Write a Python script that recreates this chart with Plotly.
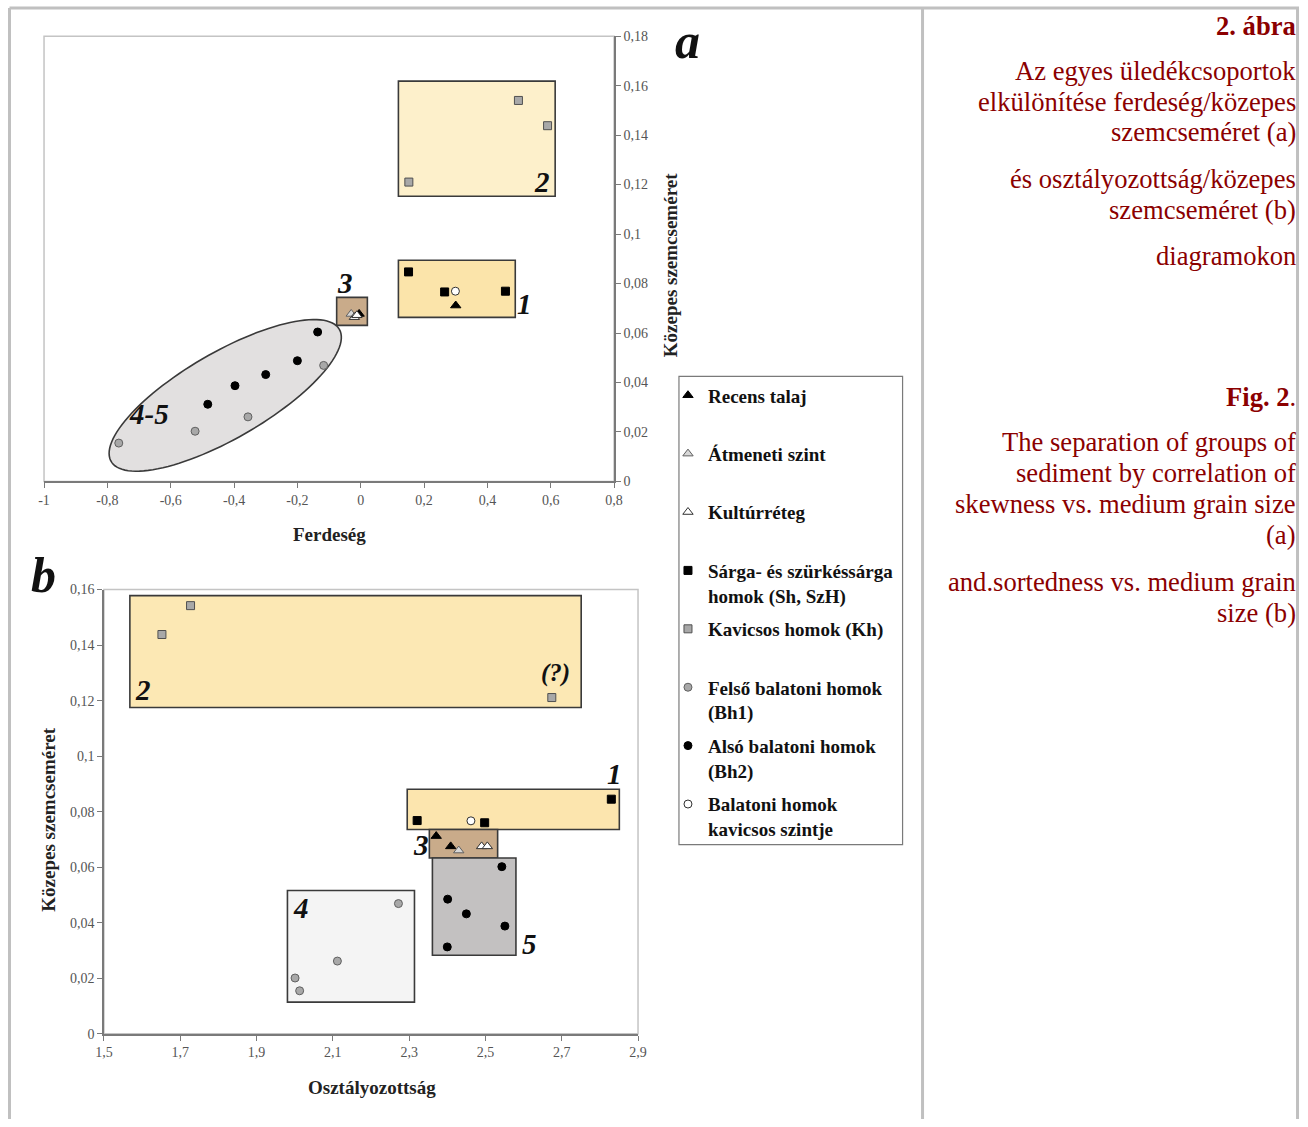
import numpy as np
import plotly.graph_objects as go

# figure size (the browser window)
W, H = 1308, 1127
# the photographed picture is slightly larger than the window; map reference pixels to figure pixels
SX, SY, OFF = 1308 / 1324, 1127 / 1143, 8

# ---------------- Panel a: Ferdeség (skewness) vs Közepes szemcseméret ----------------
recens_a_x = [0.300, -0.005]
recens_a_y = [0.0711, 0.0677]
atmeneti_a_x = [-0.030]
atmeneti_a_y = [0.0677]
kultur_a_x = [-0.020, -0.012]
kultur_a_y = [0.0664, 0.0672]
sarga_a_x = [0.151, 0.265, 0.457]
sarga_a_y = [0.0847, 0.0766, 0.0769]
kavicsos_a_x = [0.498, 0.590, 0.152]
kavicsos_a_y = [0.1540, 0.1438, 0.1210]
felso_a_x = [-0.764, -0.523, -0.356, -0.117]
felso_a_y = [0.0155, 0.0203, 0.0261, 0.0469]
also_a_x = [-0.483, -0.397, -0.300, -0.200, -0.136]
also_a_y = [0.0312, 0.0387, 0.0432, 0.0488, 0.0604]
balkav_a_x = [0.299]
balkav_a_y = [0.0769]

# ---------------- Panel b: Osztályozottság (sortedness) vs Közepes szemcseméret ----------------
recens_b_x = [2.371, 2.409]
recens_b_y = [0.0712, 0.0675]
atmeneti_b_x = [2.430]
atmeneti_b_y = [0.0660]
kultur_b_x = [2.490, 2.505]
kultur_b_y = [0.0675, 0.0675]
sarga_b_x = [2.321, 2.498, 2.830]
sarga_b_y = [0.0768, 0.0760, 0.0845]
kavicsos_b_x = [1.652, 1.727, 2.674]
kavicsos_b_y = [0.1438, 0.1542, 0.1211]
felso_b_x = [2.001, 2.013, 2.112, 2.272]
felso_b_y = [0.0201, 0.0155, 0.0262, 0.0469]
also_b_x = [2.400, 2.401, 2.450, 2.551, 2.543]
also_b_y = [0.0313, 0.0485, 0.0432, 0.0388, 0.0602]
balkav_b_x = [2.462]
balkav_b_y = [0.0767]

# group envelopes (x0, x1, y0, y1)
groups_a = {"2": (0.119, 0.614, 0.1153, 0.1618),
            "1": (0.119, 0.488, 0.0663, 0.0894),
            "3": (-0.076, 0.021, 0.0631, 0.0744)}
groups_b = {"2": (1.568, 2.751, 0.1175, 0.1578),
            "1": (2.295, 2.851, 0.0736, 0.0881),
            "3": (2.353, 2.532, 0.0633, 0.0736),
            "5": (2.361, 2.580, 0.0283, 0.0633),
            "4": (1.981, 2.314, 0.0114, 0.0516)}

# tick labels
xa_ticks = [-1, -0.8, -0.6, -0.4, -0.2, 0, 0.2, 0.4, 0.6, 0.8]
xa_text = ["-1", "-0,8", "-0,6", "-0,4", "-0,2", "0", "0,2", "0,4", "0,6", "0,8"]
ya_ticks = [0, 0.02, 0.04, 0.06, 0.08, 0.1, 0.12, 0.14, 0.16, 0.18]
ya_text = ["0", "0,02", "0,04", "0,06", "0,08", "0,1", "0,12", "0,14", "0,16", "0,18"]
xb_ticks = [1.5, 1.7, 1.9, 2.1, 2.3, 2.5, 2.7, 2.9]
xb_text = ["1,5", "1,7", "1,9", "2,1", "2,3", "2,5", "2,7", "2,9"]
yb_ticks = [0, 0.02, 0.04, 0.06, 0.08, 0.1, 0.12, 0.14, 0.16]
yb_text = ["0", "0,02", "0,04", "0,06", "0,08", "0,1", "0,12", "0,14", "0,16"]

SERIF = "Liberation Serif"


def px(x):
    return (x / SX - OFF) / W


def py(y):
    return 1 - (y / SY - OFF) / H


fig = go.Figure()

series = [
    ("Recens talaj", recens_a_x, recens_a_y, recens_b_x, recens_b_y,
     dict(symbol="triangle-up", size=9, color="#000000", line=dict(color="#000000", width=1))),
    ("Átmeneti szint", atmeneti_a_x, atmeneti_a_y, atmeneti_b_x, atmeneti_b_y,
     dict(symbol="triangle-up", size=9, color="#d8d8d8", line=dict(color="#606060", width=1))),
    ("Kultúrréteg", kultur_a_x, kultur_a_y, kultur_b_x, kultur_b_y,
     dict(symbol="triangle-up", size=9, color="#ffffff", line=dict(color="#303030", width=1))),
    ("Sárga- és szürkéssárga<br>homok (Sh, SzH)", sarga_a_x, sarga_a_y, sarga_b_x, sarga_b_y,
     dict(symbol="square", size=8, color="#000000", line=dict(color="#000000", width=1))),
    ("Kavicsos homok (Kh)", kavicsos_a_x, kavicsos_a_y, kavicsos_b_x, kavicsos_b_y,
     dict(symbol="square", size=8, color="#a8a8a8", line=dict(color="#505050", width=1))),
    ("Felső balatoni homok<br>(Bh1)", felso_a_x, felso_a_y, felso_b_x, felso_b_y,
     dict(symbol="circle", size=8, color="#a8a8a8", line=dict(color="#606060", width=1))),
    ("Alsó balatoni homok<br>(Bh2)", also_a_x, also_a_y, also_b_x, also_b_y,
     dict(symbol="circle", size=8, color="#000000", line=dict(color="#000000", width=1))),
    ("Balatoni homok<br>kavicsos szintje", balkav_a_x, balkav_a_y, balkav_b_x, balkav_b_y,
     dict(symbol="circle", size=8, color="#ffffff", line=dict(color="#303030", width=1))),
]

for i, (name, xa, ya, xb, yb, mk) in enumerate(series):
    lname = name if "<br>" in name else name + "<br>\u00a0"
    fig.add_trace(go.Scatter(x=xa, y=ya, mode="markers", marker=mk, name=lname,
                             legendgroup=f"g{i}", showlegend=True, xaxis="x", yaxis="y"))
    fig.add_trace(go.Scatter(x=xb, y=yb, mode="markers", marker=mk, name=lname,
                             legendgroup=f"g{i}", showlegend=False, xaxis="x2", yaxis="y2"))

shapes = []
# page frame lines
frame = "#c0c0c0"
fl, ft, fr = 0.5 / W, 1 - 1.0 / H, 1 - 1.5 / W
shapes += [
    dict(type="line", xref="paper", yref="paper", x0=fl, x1=1, y0=ft, y1=ft, line=dict(color=frame, width=3)),
    dict(type="line", xref="paper", yref="paper", x0=fl, x1=fl, y0=ft, y1=0, line=dict(color=frame, width=3)),
    dict(type="line", xref="paper", yref="paper", x0=px(923), x1=px(923), y0=ft, y1=0, line=dict(color=frame, width=3)),
    dict(type="line", xref="paper", yref="paper", x0=fr, x1=fr, y0=ft, y1=0, line=dict(color=frame, width=3)),
]
# legend frame
shapes.append(dict(type="rect", xref="paper", yref="paper", x0=px(679), x1=px(903), y0=py(845), y1=py(377),
                   line=dict(color="#7a7a7a", width=1.2), fillcolor="rgba(0,0,0,0)"))
# plot-area frames
for xr, yr in (("x", "y"), ("x2", "y2")):
    shapes.append(dict(type="rect", xref=f"{xr} domain", yref=f"{yr} domain", x0=0, x1=1, y0=0, y1=1,
                       line=dict(color="#c4c4c4", width=1.5), layer="below"))

box_line = dict(color="#3a3a3a", width=1.6)
fills_a = {"2": "#fdf0cb", "1": "#fbe4aa", "3": "#c9ab8a"}
for k, (x0, x1, y0, y1) in groups_a.items():
    shapes.append(dict(type="rect", xref="x", yref="y", x0=x0, x1=x1, y0=y0, y1=y1,
                       fillcolor=fills_a[k], line=box_line, layer="below"))
fills_b = {"2": "#fce8b4", "1": "#fce5ae", "3": "#c9ab8a", "5": "#c3c1c1", "4": "#f4f4f4"}
for k, (x0, x1, y0, y1) in groups_b.items():
    shapes.append(dict(type="rect", xref="x2", yref="y2", x0=x0, x1=x1, y0=y0, y1=y1,
                       fillcolor=fills_b[k], line=box_line, layer="below"))

# ellipse around groups 4-5 in panel a (rotated in screen space, reference pixels)
xa_ppu = (614 - 43) / 1.8
ya_ppu = (482 - 37) / 0.18
cx, cy = -1 + (224.5 - 43) / xa_ppu, (482 - 396) / ya_ppu
A, B, th = 132, 43, np.deg2rad(30)
t = np.linspace(0, 2 * np.pi, 120)
ex = A * np.cos(t) * np.cos(th) - B * np.sin(t) * np.sin(th)
ey = A * np.cos(t) * np.sin(th) + B * np.sin(t) * np.cos(th)
exd = cx + ex / xa_ppu
eyd = cy + ey / ya_ppu
path = "M " + " L ".join(f"{a:.5f},{b:.6f}" for a, b in zip(exd, eyd)) + " Z"
shapes.append(dict(type="path", xref="x", yref="y", path=path, fillcolor="#e2e0e0",
                   line=dict(color="#3a3a3a", width=1.6), layer="below"))

ann = []


def lab(text, x, y, size=29, color="#111111", italic=True, bold=True):
    t = text
    if bold:
        t = f"<b>{t}</b>"
    if italic:
        t = f"<i>{t}</i>"
    ann.append(dict(text=t, x=px(x), y=py(y), xref="paper", yref="paper", showarrow=False,
                    xanchor="center", yanchor="middle", font=dict(family=SERIF, size=size, color=color)))


# group labels
lab("2", 542, 183)
lab("1", 524, 305)
lab("3", 344, 284)
lab("4-5", 148, 415)
lab("a", 688, 42, size=50)
lab("2", 142, 690)
lab("(?)", 555, 673, size=25)
lab("1", 614, 774)
lab("3", 421, 845)
lab("4", 300, 908)
lab("5", 529, 944)
lab("b", 42, 575, size=50)

# axis titles
TFONT = dict(family=SERIF, size=19, color="#222")
for text, x, y, ang in (("<b>Ferdeség</b>", 329, 535, 0),
                        ("<b>Közepes szemcseméret</b>", 670, 266, -90),
                        ("<b>Osztályozottság</b>", 372, 1088, 0),
                        ("<b>Közepes szemcseméret</b>", 48, 820, -90)):
    ann.append(dict(text=text, x=px(x), y=py(y), xref="paper", yref="paper", showarrow=False,
                    xanchor="center", yanchor="middle", textangle=ang, font=TFONT))

# caption text on the right (one annotation per line)
RED = "#8b0000"
caption_lines = [
    ("<b>2. ábra</b>", 27),
    ("Az egyes üledékcsoportok", 72),
    ("elkülönítése ferdeség/közepes", 103),
    ("szemcseméret (a)", 133),
    ("és osztályozottság/közepes", 180),
    ("szemcseméret (b)", 211),
    ("diagramokon", 257),
    ("<b>Fig. 2</b>.", 398),
    ("The separation of groups of", 443),
    ("sediment by correlation of", 474),
    ("skewness vs. medium grain size", 505),
    ("(a)", 536),
    ("and.sortedness vs. medium grain", 582),
    ("size (b)", 613),
]
for text, yc in caption_lines:
    ann.append(dict(text=text, x=px(1299), y=py(yc), xref="paper", yref="paper", showarrow=False,
                    xanchor="right", yanchor="middle", align="right",
                    font=dict(family=SERIF, size=26.6, color=RED)))

axis_common = dict(showgrid=False, zeroline=False, showline=True, linecolor="#7a7a7a", linewidth=1.5,
                   ticks="outside", ticklen=5, tickcolor="#7a7a7a", tickwidth=1.2,
                   tickfont=dict(family=SERIF, size=14, color="#555555"))

fig.update_layout(
    width=W, height=H, autosize=False,
    margin=dict(l=0, r=0, t=0, b=0),
    paper_bgcolor="white", plot_bgcolor="white",
    showlegend=True,
    xaxis=dict(domain=[px(43), px(614)], range=[-1, 0.8], anchor="y",
               tickvals=xa_ticks, ticktext=xa_text, **axis_common),
    yaxis=dict(domain=[py(482), py(37)], range=[0, 0.18], anchor="x", side="right",
               tickvals=ya_ticks, ticktext=ya_text, **axis_common),
    xaxis2=dict(domain=[px(103), px(638)], range=[1.5, 2.9], anchor="y2",
                tickvals=xb_ticks, ticktext=xb_text, **axis_common),
    yaxis2=dict(domain=[py(1034), py(590)], range=[0, 0.16], anchor="x2",
                tickvals=yb_ticks, ticktext=yb_text, **axis_common),
    legend=dict(x=px(668), y=py(377), xanchor="left", yanchor="top",
                bgcolor="rgba(0,0,0,0)", borderwidth=0,
                font=dict(family=SERIF, size=19, color="#111111", weight="bold"),
                tracegroupgap=6, valign="top", itemwidth=30),
    shapes=shapes,
    annotations=ann,
)

fig.write_html("out.html", config={"displayModeBar": False},
               post_script="document.body.style.margin='0';document.body.style.overflow='hidden';")
